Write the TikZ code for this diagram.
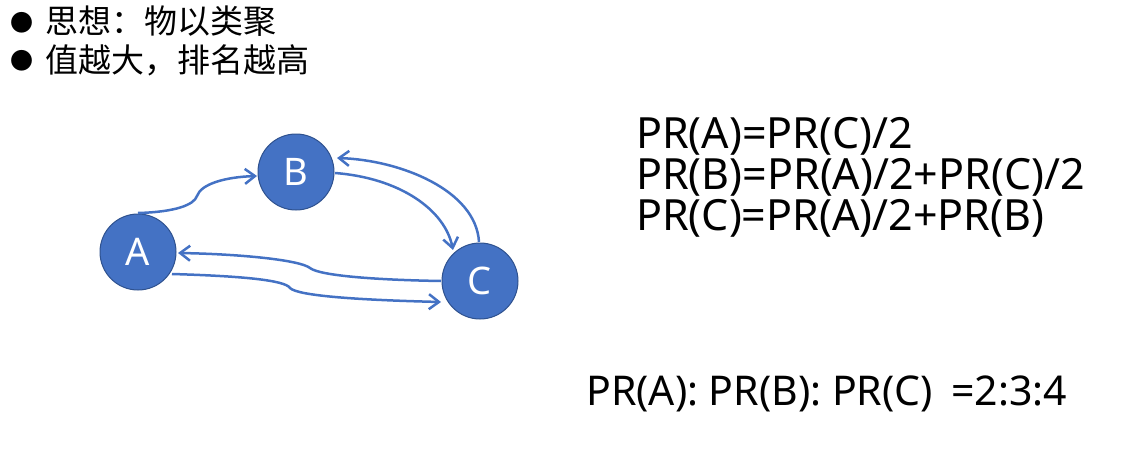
\documentclass[tikz,border=0pt]{standalone}
\usepackage{fontspec}
\setmainfont{Noto Sans}
\newfontfamily\cjk{Noto Sans CJK SC}
\usetikzlibrary{arrows.meta}
\definecolor{nodeblue}{HTML}{4472C4}
\definecolor{nodeedge}{HTML}{2F528F}
\begin{document}
\begin{tikzpicture}[x=1pt,y=-1pt,
  vertex/.style={circle,fill=nodeblue,draw=nodeedge,line width=1pt,minimum size=76pt,inner sep=0pt,
    text=white,font=\fontsize{38}{40}\selectfont},
  link/.style={draw=nodeblue,line width=2.5pt,-{Straight Barb[length=10pt,width=15pt,line width=2.5pt]}},
  eq/.style={anchor=base west,inner sep=0pt,font=\fontsize{43}{43}\selectfont},
  res/.style={anchor=base west,inner sep=0pt,font=\fontsize{41}{42}\selectfont},
  dot/.style={inner sep=0pt,font=\cjk\fontsize{23}{23}\selectfont},
  bullet/.style={anchor=west,inner sep=0pt,font=\cjk\fontsize{33}{33}\selectfont}]
\useasboundingbox (0,0) rectangle (1122,466);
\node[dot] (d1) at (22,23) {●};
\node[dot] (d2) at (22,61) {●};
\node[bullet] (t1) at (45,21) {思想：物以类聚};
\node[bullet] (t2) at (45,60) {值越大，排名越高};
\node[vertex] (A) at (138,252) {A};
\node[vertex] (B) at (296,172) {B};
\node[vertex] (C) at (480,281) {C};
\coordinate (a1) at (138,213);
\coordinate (a2) at (172,274);
\coordinate (b1) at (257,176);
\coordinate (b2) at (335,173);
\coordinate (b3) at (337,158);
\coordinate (c1) at (453,250);
\coordinate (c2) at (479,242);
\coordinate (c3) at (441,281);
\coordinate (c4) at (441,302);
\coordinate (a3) at (178,253);
\draw[link] (a1) .. controls (175,212) and (194,205) .. (197,196) .. controls (201,184) and (225,177) .. (b1);
\draw[link] (b2) .. controls (400,178) and (445,210) .. (c1);
\draw[link] (c2) .. controls (476,190) and (400,160) .. (b3);
\draw[link] (c3) .. controls (380,280) and (320,276) .. (310,268) .. controls (300,260) and (240,254) .. (a3);
\draw[link] (a2) .. controls (240,276) and (285,280) .. (290,288) .. controls (298,296) and (360,300) .. (c4);
\node[eq] (e1) at (636,148) {PR(A)=PR(C)/2};
\node[eq] (e2) at (636,189) {PR(B)=PR(A)/2+PR(C)/2};
\node[eq] (e3) at (636,230) {PR(C)=PR(A)/2+PR(B)};
\node[res] (r) at (586,405) {PR(A): PR(B): PR(C)\hspace{0.45em}=2:3:4};
\end{tikzpicture}
\end{document}
